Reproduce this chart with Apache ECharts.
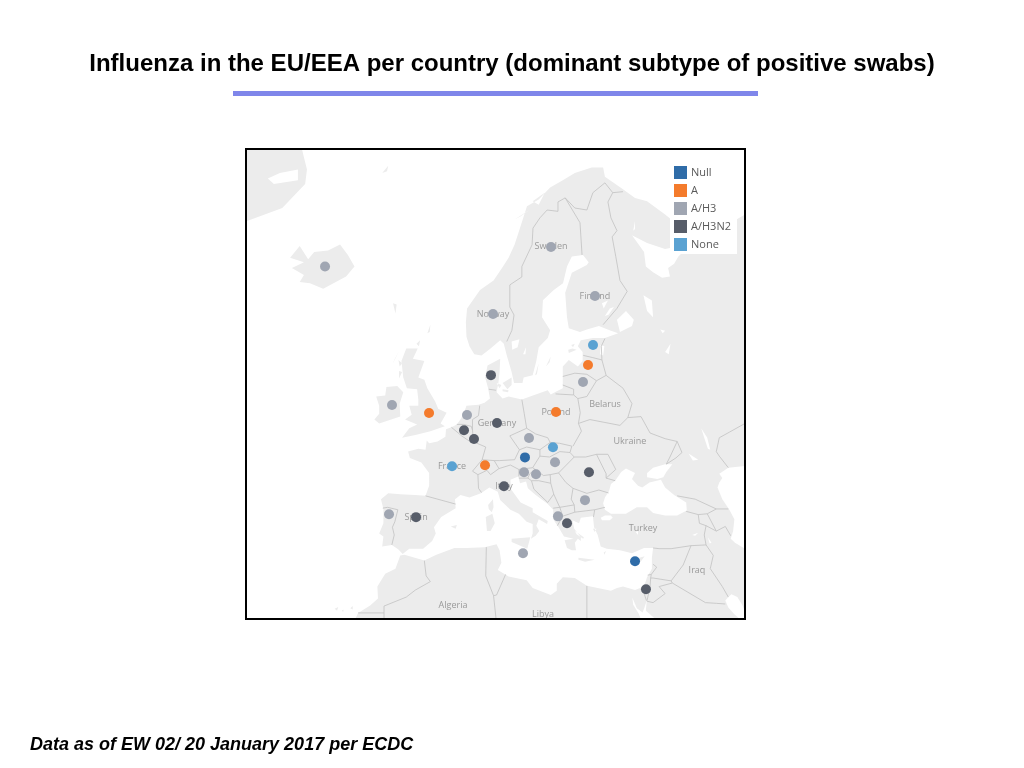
<!DOCTYPE html>
<html>
<head>
<meta charset="utf-8">
<style>html,body{margin:0;padding:0;background:#fff}#c{width:1024px;height:768px}</style>
<script src="https://cdn.jsdelivr.net/npm/echarts@6/dist/echarts.min.js"></script>
</head>
<body>
<div id="c"></div>
<script>
// ---- values: [lon, lat] of each country's dot, grouped by dominant subtype
const nullPts = [[14.72,47.86],[33.0,35.0]];
const aPts = [[25.19,57.14],[19.87,52.66],[-1.22,52.56],[8.08,46.98]];
const h3Pts = [[-18.5,65.0],[19.04,66.34],[26.35,62.85],[9.41,61.46],[24.36,55.58],[-7.37,53.36],[5.09,52.36],[15.39,49.98],[19.71,47.32],[14.56,46.18],[16.55,45.94],[-7.87,41.14],[24.69,42.88],[20.2,40.88],[14.39,36.08]];
const h3n2Pts = [[9.07,56.22],[10.07,51.54],[4.59,50.8],[6.25,49.86],[-3.38,40.78],[11.23,44.54],[25.35,46.18],[21.7,40.0],[34.82,31.12]];
const nonePts = [[26.02,58.9],[19.37,48.98],[2.6,46.86]];
const seriesNames = ['Null','A','A/H3','A/H3N2','None'];
const countryLabels = [['Sweden',19.04,66.34],['Norway',9.41,61.46],['Finland',26.35,62.85],['Belarus',28.01,53.44],['Poland',19.87,52.66],['Germany',10.07,51.54],['Ukraine',32.16,49.64],['France',2.6,46.86],['Italy',11.23,44.54],['Spain',-3.38,40.78],['Turkey',34.32,39.38],['Iraq',43.29,33.78],['Algeria',2.76,28.78],['Libya',17.71,27.48]];

// ---- base map outlines, [lon, lat]
const mainland = [[51.27,68.4],[48,67.7],[46,68.2],[44,68.5],[43.5,67.5],[44.3,66.5],[42,66.4],[40.2,65.7],[39.5,65.2],[38.5,64.9],[38.8,64.3],[37.5,64.2],[36,64.6],[34.8,65],[34.5,66],[32.5,67.1],[35,66.6],[38,66.2],[40.5,66.4],[41.2,67],[40,67.8],[38,68.4],[35,69.2],[33,69.4],[31,69.9],[28,70.6],[27.7,71.1],[25.8,71.1],[23,70.8],[21,70.4],[18.9,70],[17,69.3],[15.05,68.9],[14,67.7],[13,66.5],[12,65.6],[11.07,65],[9.5,64],[7.25,63.3],[5.1,61.9],[4.9,60.8],[5,59.6],[5.5,58.8],[6.3,58.1],[7.5,58],[9,58.6],[10.6,59.3],[11.2,59],[11.7,58],[12.5,56.5],[12.9,55.5],[14.3,55.5],[14.5,56],[16,56.2],[16.6,57.5],[17,58.7],[18.5,59.5],[18.9,60.14],[17.55,61.2],[17.7,62.52],[19.5,63.3],[21.04,63.8],[21.7,65],[22.5,65.7],[24.35,65.8],[25.3,65.3],[25,65.1],[22.5,64.56],[21.4,63.1],[21.7,61.2],[22,60.3],[23.85,60],[25,60.2],[27,60.5],[29,60.1],[30.2,59.9],[28,59.5],[26,59.5],[24,59.3],[23.5,58.8],[24.3,58.3],[24.3,57.5],[23.5,57],[22,57.6],[21,57],[21,56],[21,55],[20,54.7],[19,54.4],[18.5,54.8],[16.5,54.4],[14.2,53.9],[12,54.2],[11,54],[10,54.6],[10.3,55.5],[10.5,56.5],[10.6,57.7],[8.5,57.1],[8.1,56],[8.6,55],[8.9,54],[8,53.6],[7,53.4],[5,53.3],[4.7,52.8],[4.1,52],[3.4,51.4],[2.5,51.1],[1.6,50.9],[1.5,50.1],[0.2,49.6],[-1.2,49.4],[-1.6,49.7],[-1.8,48.7],[-3,48.8],[-4.7,48.5],[-4.4,47.8],[-2.5,47.3],[-1.2,46.1],[-1.2,44.6],[-1.8,43.4],[-3.5,43.5],[-6,43.6],[-8,43.7],[-9.2,43],[-8.8,41.8],[-8.8,40],[-9.5,38.7],[-8.8,38.3],[-9,37],[-7.4,37.2],[-6.3,36.6],[-5.6,36],[-4.5,36.7],[-2.2,36.7],[-0.7,37.7],[-0.1,38.7],[-0.4,39.5],[0.8,40.8],[3.2,41.9],[3.1,43],[4,43.5],[5.5,43.2],[7.4,43.7],[8.8,44.4],[10.2,43.9],[10.6,42.9],[12.3,41.7],[13.7,41.2],[15,40.2],[16,39.9],[16,38.7],[15.7,38],[16.5,38.4],[17.1,39],[16.6,39.7],[17,40.5],[18.4,39.9],[18.5,40.3],[16,41.4],[16,41.9],[14,42.6],[12.4,44.2],[12.3,45.3],[13.6,45.7],[13.9,44.9],[14.9,45.1],[15.2,44.3],[16.5,43.5],[18.5,42.4],[19.4,41.7],[19.4,40.5],[20.3,39.5],[21.2,38.3],[22.8,38],[21.3,37.8],[21.7,36.8],[22.5,36.5],[23.2,36.5],[23,37.5],[23.5,38],[24,37.7],[24,38.2],[22.9,39.3],[22.6,40.4],[23.7,40],[24,40.7],[26,40.9],[26.2,39.5],[26.8,38.5],[27.3,37],[28.3,36.7],[30.5,36.5],[32.5,36.1],[34.5,36.8],[36,36.8],[35.8,35.5],[35.8,34],[35,32.8],[34.5,31.5],[33,31],[32.3,31.2],[31,31.5],[30,31.3],[29,30.9],[25,31.6],[23,32.7],[21,32.8],[20,31.9],[20,30.9],[19,30.3],[16,31.3],[15,32.4],[12,32.9],[10.2,33.8],[10.8,34.8],[10.5,36.5],[10,37.3],[8,36.9],[5,36.8],[3,36.8],[0,35.9],[-2,35.1],[-5.3,35.9],[-6,35.8],[-6.8,34],[-8.5,33.3],[-9.8,31.5],[-9.7,29.8],[-11,28.8],[-13,27.7],[-13.4,26.95],[51.27,26.95]];
const greenland = [[-31.46,72.02],[-22.3,72.02],[-21.5,71],[-21.8,70.2],[-25.6,68.8],[-30.1,68.2],[-31.46,68]];
const britain = [[-5.7,50],[-3.5,50.3],[-1,50.7],[1.4,51.2],[0.7,51.5],[1.7,52.6],[0.3,53],[-0.2,53.7],[-1.5,55],[-2,55.8],[-3,56],[-2,57.5],[-3.9,57.7],[-3.1,58.6],[-5,58.6],[-5.8,57.5],[-5.5,56],[-4.9,55],[-3.2,54.9],[-3,53.9],[-3,53.3],[-4.5,53.3],[-4.1,52.4],[-5.2,51.9],[-3.2,51.4],[-4.5,51]];
const ireland = [[-6,52.2],[-6.1,53.5],[-5.5,54.6],[-6.5,55.2],[-8.3,55.1],[-8.5,54.3],[-10,54.2],[-9.5,53.3],[-9.5,52.5],[-10.3,51.9],[-9.5,51.5],[-8,51.8]];
const iceland = [[-22.7,66.4],[-21.3,65.5],[-20.3,66],[-18,66.1],[-16,66.5],[-14.7,65.8],[-13.6,65],[-15,64.3],[-18.8,63.4],[-21,63.8],[-22.7,63.9],[-22,64.4],[-24,64.9],[-22,65.3],[-24.3,65.6]];
const islands = [
 [[12.5,38],[15.6,38.2],[15.1,36.7],[12.5,37.6]],
 [[8.2,40.8],[9.3,41.2],[9.7,40],[9,39],[8.4,39]],
 [[8.6,42.3],[9.4,43],[9.5,42],[9.2,41.4],[8.7,41.8]],
 [[23.6,35.5],[26.3,35.2],[24.7,34.95],[23.6,35.2]],
 [[32.3,35],[33,35.3],[34.6,35.7],[34,35],[33,34.6]],
 [[27.8,36.2],[28.2,36.4],[27.9,35.9]],
 [[26,39.3],[26.6,39.3],[26.3,38.9]],
 [[23,39],[24.5,38.2],[24.4,38],[23.3,38.6]],
 [[2.4,39.6],[3.4,39.8],[3.2,39.3]],
 [[18.2,57],[19,57.9],[18.8,57.4]],
 [[16.4,56.2],[17,57.3],[16.7,56.3]],
 [[22,58.2],[23.3,58.5],[22.6,58.6],[21.9,58.5]],
 [[22.4,58.9],[23,59],[22.7,58.7]],
 [[11,55.5],[12.5,56],[12.5,55.3],[11.8,54.9]],
 [[10,55.5],[10.8,55.3],[10.5,55]],
 [[11,54.9],[12,54.8],[11.9,54.6],[11,54.7]],
 [[-7.2,62.3],[-6.6,62.2],[-6.8,61.5]],
 [[-1.5,59.9],[-1,60.6],[-1.1,60]],
 [[-3.3,59],[-2.7,59.3],[-2.9,58.8]],
 [[-7.3,57.2],[-6.2,58.4],[-6.9,57.7]],
 [[-6.3,57.6],[-5.7,57.3],[-6.1,57]],
 [[-6.2,55.9],[-5.7,56.5],[-6.2,56.6]],
 [[13,68.1],[15.5,68.7],[14,68.3]],
 [[16,69.2],[18,69.7],[17,69]],
 [[-9,70.8],[-8,71.2],[-8.2,70.9]],
 [[-16.9,28.3],[-16.3,28.55],[-16.5,28]],
 [[-15.7,28.1],[-15.4,28.15],[-15.5,27.8]],
 [[-14.3,28.4],[-13.9,28.7],[-13.9,28.2]]
];
const water = [
 [[29,41.2],[28,41.7],[27.7,42.5],[28,43.2],[28.7,44],[29,44.8],[29.7,45.2],[30.7,46.2],[31.5,46.6],[33,46.1],[32.5,45.4],[33.5,44.6],[34.2,44.4],[35.4,45],[36.6,45.2],[37.3,45.3],[38,44.4],[39.5,43.5],[41.5,42.6],[41.6,41.6],[40,41],[38,41],[36,41.3],[35,42],[33.3,42],[31.5,41.2],[30,41.2]],
 [[35,45.6],[35,46.1],[36,46.7],[38,47.1],[39.2,47.1],[38.2,46.2],[37.7,45.6],[36.7,45.4]],
 [[27.3,40.7],[28,41],[29,41],[29.3,40.7],[28.8,40.4],[27.5,40.4]],
 [[47,46],[47.5,45.5],[47,45],[46.7,44.4],[47.5,43],[48.6,41.8],[49.5,40.5],[49.3,39],[48.9,38],[49.6,37.5],[51.27,36.7],[51.27,46.9],[48.5,46.7]],
 [[32.55,29.95],[32.7,28.9],[33.6,27.6],[33.9,26.95],[36.2,26.95],[34.8,28],[34.95,29.5],[34.5,28.3],[34.25,27.75],[33.3,28.4]],
 [[48.5,30],[48,29.5],[48.5,28.5],[49.5,27.5],[50.2,26.95],[51.27,26.95],[51.27,27.9],[50.8,28.9],[50,30],[49,30.4]],
 [[30.5,60],[32.5,60.5],[32.8,61],[31.5,61.7],[30,61]],
 [[35,61.7],[36,61.2],[35.8,62.5],[34.4,62.9]],
 [[12.5,59.2],[13.8,59.4],[13.5,58.7],[12.6,58.5]],
 [[14.4,58.1],[14.9,58.7],[14.8,58.1]],
 [[27.3,58.9],[27.9,58.8],[27.7,58],[27.2,58.1]],
 [[28,61.3],[28.8,61.9],[29.5,62],[28.6,61.4]],
 [[27.5,62.3],[28.5,62.5],[27.8,61.9]],
 [[37.2,60.2],[38,60.1],[37.6,59.9]],
 [[38,58.3],[38.9,59],[38.6,58.1]],
 [[33,68],[33,67.5],[32.7,67.4]],
 [[33.1,38.9],[33.5,39],[33.5,38.5]],
 [[42.5,38.5],[43.5,38.8],[43,38.4]],
 [[45.1,38.2],[45.7,37.5],[45.4,37.4]],
 [[44,51],[45,50],[45.5,48.7],[45.1,48.8],[44.5,50]],
 [[41.9,48.3],[43.5,47.6],[42.6,47.5]],
 [[-23,71],[-26,70.8],[-28,70.5],[-27,70.2],[-23,70.4]]
];
const borders = [
 [[21.4,69.4],[20.2,69.16],[20.2,68.6],[18.4,68.68],[17.2,68.2],[16.05,67.56],[15.9,66.48],[14.2,65],[14.2,64.26],[12.2,63.68],[12.2,62],[12.9,61.38],[12.55,60.14],[11.7,59.2]],
 [[21.4,69.4],[23.86,67.9],[24.2,65.8]],
 [[21.4,69.4],[23,68.8],[25,68.68],[26,69.7],[28,70.26],[29.3,69.7],[28.5,69.16],[29,68.2],[30,67.4],[29.2,67],[29.8,65.7],[30.5,64],[31.7,63.2],[30,61.9],[27.7,60.6]],
 [[29.3,69.7],[31,69.76]],
 [[28,59.45],[27.4,58.8],[27.5,57.6],[28.2,56.2],[31,55],[32.5,53.5],[31.8,52.1],[34,52.2],[35.5,50.5],[38,49.9],[40,49.6],[38.8,47.9],[38.2,47.1]],
 [[24.4,58],[26,57.8],[27.5,57.6]],
 [[21,56.1],[23,56.4],[25,56.3],[26.6,55.7],[28.2,56.2]],
 [[26.6,55.7],[25,54.2],[23.5,54],[23.9,52.6],[23.6,51.5],[24.1,50.7],[22.7,49.1]],
 [[21,55.3],[22.8,54.9],[22.8,54.35],[19.8,54.45]],
 [[22.8,54.35],[23.5,54]],
 [[23.6,51.5],[25.5,51.9],[28,51.6],[30.5,51.3],[31.8,52.1]],
 [[14.2,53.9],[14.6,52.5],[15,51],[16.5,50.4],[18.5,50],[18.9,49.5],[20.5,49.4],[22.5,49.1],[22.2,48.4],[20.5,48.5],[18.8,47.9],[17.2,48]],
 [[18.9,49.5],[17.2,48.7],[15,49],[13.8,48.7],[12.2,50.2],[15,51]],
 [[17.2,48.7],[17.2,48]],
 [[13.8,48.7],[13,47.6],[10.5,47.5],[9.6,47.5],[7.6,47.6],[8.2,49],[6.4,49.5],[6.1,50.1],[6,50.8],[6,51.9],[7,52.3],[7.2,53.3]],
 [[8.7,54.9],[9.9,54.8]],
 [[3.4,51.4],[4.5,51.4],[5.8,51.2],[6,50.8]],
 [[2.5,51.1],[4.2,50.2],[5.8,49.5],[6.4,49.5]],
 [[5.8,49.5],[6.1,50.1]],
 [[7.6,47.6],[6,46.3],[6.9,45.9],[7,44.3],[7.5,43.8]],
 [[6.9,45.9],[8.4,46.4],[9,45.9],[10.4,46.6],[9.6,47.5]],
 [[10.4,46.6],[12.3,47],[13.7,46.5],[13.7,45.7]],
 [[13.7,46.5],[16,46.7],[17.2,48]],
 [[16,46.7],[16.4,46.5],[15.5,46],[15.2,45.5],[13.7,45.5]],
 [[16.4,46.5],[17.8,45.8],[18.9,45.9],[20.3,46.1],[22.9,47.9],[22.2,48.4]],
 [[22.9,47.9],[24.8,47.9],[26.6,48.2],[28.5,48.2],[29.8,46.5],[28.2,45.5],[29.7,45.2]],
 [[26.6,48.2],[28.2,46],[28.2,45.5]],
 [[20.3,46.1],[21.5,45],[22.7,44.3],[25,43.7],[27,44.1],[28.6,43.75]],
 [[22.7,44.3],[22.4,43],[22.9,42.3],[23,41.4],[26.3,41.7],[28,42]],
 [[26.3,41.7],[26.1,40.8]],
 [[23,41.4],[21,40.9],[20.1,39.7]],
 [[21,40.9],[20.5,42],[22.9,42.3]],
 [[20.5,42],[19.4,41.9]],
 [[15.2,45.5],[15.8,45.2],[17,45.2],[19,44.9],[18.9,45.9]],
 [[15.8,45.2],[16.2,44.2],[18.5,42.6]],
 [[19,44.9],[19.5,43.6],[18.5,42.6]],
 [[19.5,43.6],[20.5,42]],
 [[-1.8,43.4],[3.2,42.4]],
 [[-8.9,41.9],[-8.1,42],[-6.4,41.7],[-6.9,40.2],[-7.3,39.5],[-7,38.5],[-7.4,37.2]],
 [[36,36.8],[37,36.7],[39,36.7],[42.3,37.1],[44.8,37.2],[44.5,38.5],[44.8,39.7],[43.7,40],[43.5,41.1],[41.5,41.5]],
 [[40,43.4],[43,43],[46.5,41.8],[48.5,41.8]],
 [[46.5,41.8],[45,41.2],[43.5,41.1]],
 [[45,41.2],[46.5,39],[48,39.6],[48.9,38.4]],
 [[44.8,39.7],[46.5,39]],
 [[42.3,37.1],[41,34.5],[39,32.3],[36,32.7],[35.6,32.7]],
 [[39,32.3],[39.2,32],[37,31.5],[38,30.5],[36,29.2],[35,29.4]],
 [[36,34.6],[36.6,34.2],[35.7,33.2],[35.1,33.1]],
 [[35.7,33.2],[35.6,32.7],[35.5,31.5],[35,29.5]],
 [[34.2,31.3],[34.9,29.5]],
 [[44.8,37.2],[46,35.8],[45.5,34],[47.5,31.5],[48.5,30]],
 [[39.2,32],[44.7,29.2],[46.5,29.1],[48,29]],
 [[25,31.6],[25,26.95]],
 [[11.5,33.2],[10,30.3],[9.5,30.2],[9.9,26.95]],
 [[8.3,36.9],[8.2,33],[9.5,30.2]],
 [[-2,35.1],[-1.7,33],[-1,32.2],[-3.5,31],[-5,30],[-8.7,28.7],[-8.7,26.95]],
 [[-13,27.7],[-8.7,27.7]],
 [[51.27,51.5],[48.7,50.6],[47,50],[46.5,48.5],[47,48],[48.5,46.7]],
 [[40,49.6],[40.8,48.4],[39.8,47.8],[38.2,47.1]]
];

const toFeature = (name, rings) => ({type:'Feature',properties:{name},geometry:{type:'MultiPolygon',coordinates:rings.map(r=>[r.concat([r[0]])])}});
echarts.registerMap('europe',{type:'FeatureCollection',features:[
  toFeature('land',[mainland,greenland,britain,ireland,iceland].concat(islands)),
  toFeature('water',water)
]});

// Web-Mercator projection
const merc = lat => Math.log(Math.tan(Math.PI/4 + lat*Math.PI/360));
const projection = {
  project: p => [p[0]*6.02, -345*merc(p[1])],
  unproject: p => [p[0]/6.02, (2*Math.atan(Math.exp(-p[1]/345))-Math.PI/2)*180/Math.PI]
};

const pointSets = [nullPts,aPts,h3Pts,h3n2Pts,nonePts];
const colors = ['#2f6ca8','#f47b2c','#a0a6b2','#575d69','#5aa2d2'];
const chart = echarts.init(document.getElementById('c'));
chart.setOption({
  animation:false,
  title:[
    {text:'Influenza in the EU/EEA per country (dominant subtype of positive swabs)',left:507,textAlign:'center',top:47,textStyle:{fontFamily:'Liberation Sans',fontWeight:'bold',fontSize:24,color:'#000'}},
    {text:'Data as of EW 02/ 20 January 2017 per ECDC',left:25,top:731,textStyle:{fontFamily:'Liberation Sans',fontWeight:'bold',fontStyle:'italic',fontSize:18,color:'#000'}}
  ],
  legend:{
    data:seriesNames,orient:'vertical',left:670,top:163,padding:[3,6,3,4],itemWidth:13,itemHeight:13,itemGap:5,icon:'rect',
    backgroundColor:'#fff',selectedMode:false,z:20,
    textStyle:{fontFamily:'Open Sans',fontSize:11,color:'#5a5a5a',padding:[2,0,0,-1]}
  },
  geo:{
    map:'europe',projection,roam:false,silent:true,
    boundingCoords:[[-31.46,72.02],[51.27,26.95]],
    left:247,top:150,width:498,height:468,
    label:{show:false},
    itemStyle:{areaColor:'#ececec',borderWidth:0,borderColor:'#ececec'},
    regions:[{name:'water',itemStyle:{areaColor:'#fff',borderWidth:0}}]
  },
  graphic:[
    {type:'rect',shape:{x:233,y:91,width:525,height:5},style:{fill:'#7f86ea'},silent:true},
    {type:'rect',z:50,shape:{x:246,y:149,width:499,height:470},style:{fill:null,stroke:'#000',lineWidth:2},silent:true}
  ],
  series:[
    {type:'lines',coordinateSystem:'geo',polyline:true,silent:true,z:2,
     lineStyle:{color:'#c2c2c2',width:0.8,opacity:1},data:borders.map(c=>({coords:c}))},
    {type:'scatter',name:'labels',coordinateSystem:'geo',symbolSize:0,silent:true,z:3,
     data:countryLabels.map(l=>({name:l[0],value:[l[1],l[2]]})),
     label:{show:true,position:'inside',formatter:'{b}',fontFamily:'Open Sans',fontSize:9,color:'#858585'}},
    ...seriesNames.map((n,i)=>({type:'scatter',name:n,coordinateSystem:'geo',symbol:'circle',symbolSize:10,z:5,silent:true,
      itemStyle:{color:colors[i],opacity:1},data:pointSets[i]}))
  ]
});
</script>
</body>
</html>
